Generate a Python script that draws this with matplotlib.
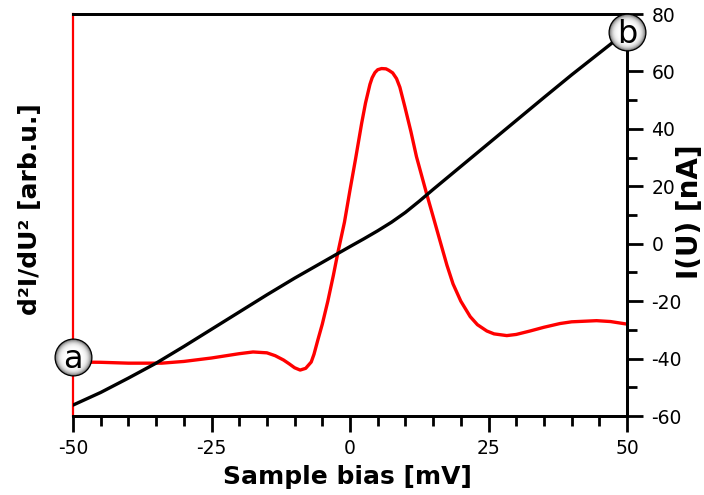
import numpy as np
import matplotlib
matplotlib.use("Agg")
import matplotlib.pyplot as plt
from matplotlib.ticker import MultipleLocator

# Sample bias (mV) and d2I/dU2 curve (arbitrary units, plotted on the hidden left axis)
bias_d2 = [-50, -45, -40, -34, -30, -25, -20, -17.5, -15, -13.5, -12, -11, -10, -9, -8, -7,
           -6.5, -5.8, -5, -4, -3, -2.2, -1, 0, 1, 2.1, 2.8, 3.6, 4.0, 4.5, 5.0, 5.7, 6.5,
           7.0, 7.7, 8.4, 9.0, 9.9, 11, 12, 13.8, 15, 16.2, 17.5, 18.6, 20, 21.7, 23,
           24.7, 26, 28.3, 30, 32.5, 35, 37.9, 40, 44.5, 47, 50]
d2I = [-41.2, -41.3, -41.6, -41.6, -41.0, -39.8, -38.3, -37.7, -38.0, -39.0, -40.5, -41.8,
       -43.2, -44.0, -43.4, -41.2, -38.5, -33.5, -28.0, -20.0, -11.0, -3.2, 7.5, 18.7,
       29.5, 41.9, 49.0, 55.5, 57.8, 59.6, 60.6, 61.0, 60.9, 60.4, 59.5, 57.5, 54.5, 47.7,
       39.0, 30.3, 17.6, 9.5, 1.3, -7.5, -14.0, -20.0, -25.4, -28.2, -30.4, -31.4, -32.0,
       -31.6, -30.4, -29.1, -27.8, -27.2, -26.8, -27.1, -28.0]

# Sample bias (mV) and current I(U) in nA (right axis)
bias_I = [-50, -45, -40, -35, -30, -25, -20, -15, -10, -5, 0, 2.5, 5, 7.5, 10, 12.5, 15,
          17.5, 20, 25, 30, 35, 40, 45, 50]
current = [-56.2, -51.8, -46.8, -41.6, -35.8, -29.8, -23.8, -17.8, -12.0, -6.5, -1.0,
           1.7, 4.5, 7.5, 10.9, 14.8, 18.9, 22.9, 26.9, 34.9, 42.9, 50.9, 58.8, 66.4, 74.0]

xticks = [-50, -25, 0, 25, 50]
yticks_right = [-60, -40, -20, 0, 20, 40, 60, 80]

fig = plt.figure(figsize=(7.04, 4.95), dpi=100)
ax = fig.add_axes([73/704, 1-416/495, (627-73)/704, (416-14)/495])
ax2 = ax.twinx()

ax.plot(bias_d2, d2I, color="red", lw=2.4, solid_joinstyle="round", solid_capstyle="round")
ax2.plot(bias_I, current, color="black", lw=2.4, solid_joinstyle="round",
         solid_capstyle="round")

for a in (ax, ax2):
    a.set_xlim(-50, 50)
    a.set_ylim(-60, 80)

# spines
ax.spines["left"].set_color("red")
ax.spines["left"].set_linewidth(1.6)
for s in ("top", "right", "bottom"):
    ax.spines[s].set_linewidth(2.0)
    ax.spines[s].set_color("black")
ax2.spines["left"].set_visible(False)
for s in ("top", "right", "bottom"):
    ax2.spines[s].set_linewidth(2.0)

ax.tick_params(axis="y", left=False, labelleft=False, right=False, labelright=False,
               which="both")
ax.set_xticks(xticks)
ax.set_xticklabels([str(v) for v in xticks])
ax.xaxis.set_minor_locator(MultipleLocator(5))
ax.tick_params(axis="x", which="major", direction="out", length=11.5, width=2.0,
               labelsize=13.5, pad=5)
ax.tick_params(axis="x", which="minor", direction="out", length=7, width=2.0)

ax2.set_yticks(yticks_right)
ax2.set_yticklabels([str(v) for v in yticks_right])
ax2.yaxis.set_minor_locator(MultipleLocator(10))
ax2.tick_params(axis="y", which="major", direction="out", length=11.5, width=2.0,
                labelsize=13.5, pad=6)
ax2.tick_params(axis="y", which="minor", direction="out", length=7, width=2.0)
ax2.tick_params(axis="x", which="both", bottom=False, top=False,
                labelbottom=False, labeltop=False)

fig.text(347/704, 1-477/495, "Sample bias [mV]", fontsize=18, fontweight="bold",
         ha="center", va="center")
fig.text(30/704, 1-209/495, "d²I/dU² [arb.u.]", rotation=90, fontsize=18,
         fontweight="bold", ha="center", va="center")
fig.text(690/704, 1-212/495, "I(U) [nA]", rotation=90, fontsize=20,
         fontweight="bold", ha="center", va="center")

# shaded circle labels
def circle_label(xa, ya, txt):
    n = 24
    d = 26.5
    for i in range(n):
        f = i / (n - 1)
        size = d * (1 - 0.98 * f)
        g = 1 - 0.6 * (1 - f) ** 6
        ax2.plot([xa], [ya], marker="o", ms=size, mfc=(g, g, g), mec="none",
                 transform=ax2.transAxes, clip_on=False, zorder=10)
    ax2.plot([xa], [ya], marker="o", ms=d, mfc="none", mec="black", mew=0.9,
             transform=ax2.transAxes, clip_on=False, zorder=11)
    ax2.text(xa, ya - 0.005, txt, transform=ax2.transAxes, ha="center", va="center",
             fontsize=23, zorder=12, clip_on=False)

circle_label(0.0, (416-357)/402, "a")
circle_label(1.0, (416-32)/402, "b")

fig.savefig("out.png", dpi=100)
